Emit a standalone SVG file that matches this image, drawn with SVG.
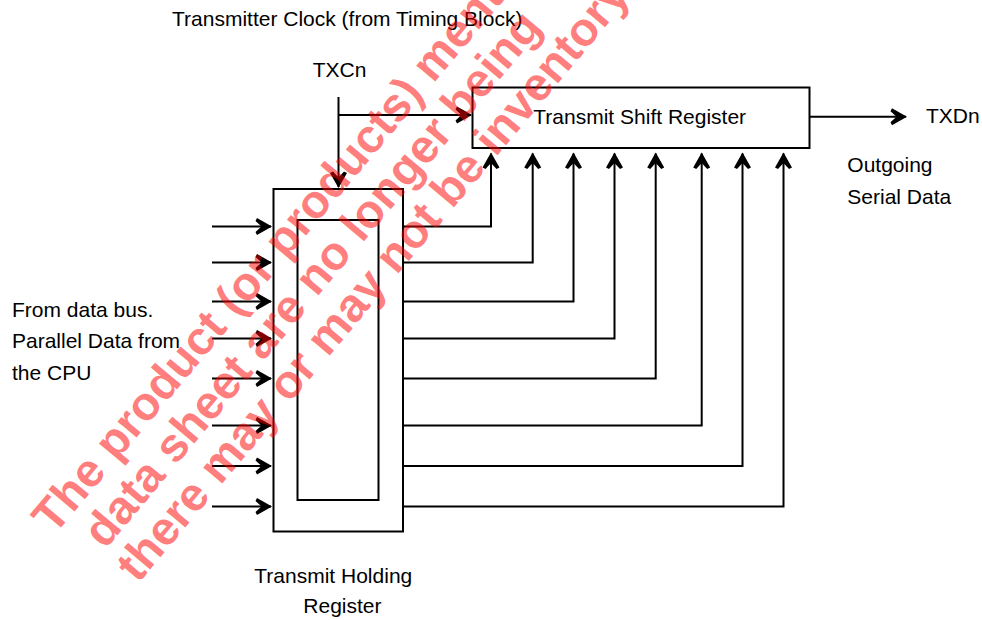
<svg xmlns="http://www.w3.org/2000/svg" width="982" height="620" viewBox="0 0 982 620">
<style>
  .box{fill:none;stroke:#000;stroke-width:2}
  .ln{fill:none;stroke:#000;stroke-width:2}
  .arr{marker-end:url(#ah)}
  text{font-family:"Liberation Sans",Arial,Helvetica,sans-serif;font-size:21px;fill:#000}
  .wm{font-family:"Liberation Sans",Arial,sans-serif;font-weight:bold;font-size:47px;fill:#ff0000;fill-opacity:0.52}
</style>
<defs>
  <marker id="ah" markerUnits="userSpaceOnUse" markerWidth="20" markerHeight="20" viewBox="-17 -10 18 20" refX="0" refY="0" orient="auto">
    <path d="M1,0 L-14,-8.5 L-15.5,-5.5 L-9.5,0 L-15.5,5.5 L-14,8.5 Z" fill="#000"/>
  </marker>
</defs>
<rect width="982" height="620" fill="#fff"/>

<g id="title-clock"><text x="172" y="25.5">Transmitter Clock (from Timing Block)</text></g>
<g id="txcn-label"><text x="312.7" y="76.7">TXCn</text></g>

<g id="shift-register">
  <rect class="box" x="472.5" y="87.5" width="337" height="60.5"/>
  <text x="533.3" y="124">Transmit Shift Register</text>
</g>

<g id="holding-register">
  <rect class="box" x="273.5" y="189" width="129.5" height="342.5"/>
  <rect class="box" x="297.5" y="220" width="81" height="280"/>
  <text x="254.3" y="582.7">Transmit Holding</text>
  <text x="303.3" y="613.3">Register</text>
</g>

<g id="txdn-output">
  <text x="926" y="122.7">TXDn</text>
  <text x="847.3" y="171.7">Outgoing</text>
  <text x="847.3" y="204.3">Serial Data</text>
</g>

<g id="data-bus-label">
  <text x="12" y="316.7">From data bus.</text>
  <text x="12" y="348.3">Parallel Data from</text>
  <text x="12" y="380">the CPU</text>
</g>

<g id="connectors">
  <!-- clock -->
  <path class="ln" d="M338.5,97 V115"/>
  <path class="ln arr" d="M338.5,115 V187"/>
  <path class="ln arr" d="M338.5,115 H471"/>
  <!-- serial out -->
  <path class="ln arr" d="M809.5,116.7 H906"/>
  <!-- parallel inputs -->
  <path class="ln arr" d="M212,226.5 H271"/>
  <path class="ln arr" d="M212,262.5 H271"/>
  <path class="ln arr" d="M212,301.5 H271"/>
  <path class="ln arr" d="M212,338.5 H271"/>
  <path class="ln arr" d="M212,378.5 H271"/>
  <path class="ln arr" d="M212,425.5 H271"/>
  <path class="ln arr" d="M212,466 H271"/>
  <path class="ln arr" d="M212,506.5 H271"/>
  <!-- holding to shift -->
  <path class="ln arr" d="M404,226.5 H491 V153.5"/>
  <path class="ln arr" d="M404,262.5 H532.7 V153.5"/>
  <path class="ln arr" d="M404,301.5 H573.5 V153.5"/>
  <path class="ln arr" d="M404,338.5 H614.5 V153.5"/>
  <path class="ln arr" d="M404,378.5 H655.7 V153.5"/>
  <path class="ln arr" d="M404,425.5 H701.7 V153.5"/>
  <path class="ln arr" d="M404,466 H742.5 V153.5"/>
  <path class="ln arr" d="M404,506.5 H783.5 V153.5"/>
</g>

<g id="watermark">
  <text class="wm" transform="translate(54,536) rotate(-50)">The product (or products) mentioned</text>
  <text class="wm" transform="translate(105,550) rotate(-50)">data sheet are no longer being</text>
  <text class="wm" transform="translate(138,584) rotate(-50)">there may or may not be inventory</text>
</g>
</svg>
